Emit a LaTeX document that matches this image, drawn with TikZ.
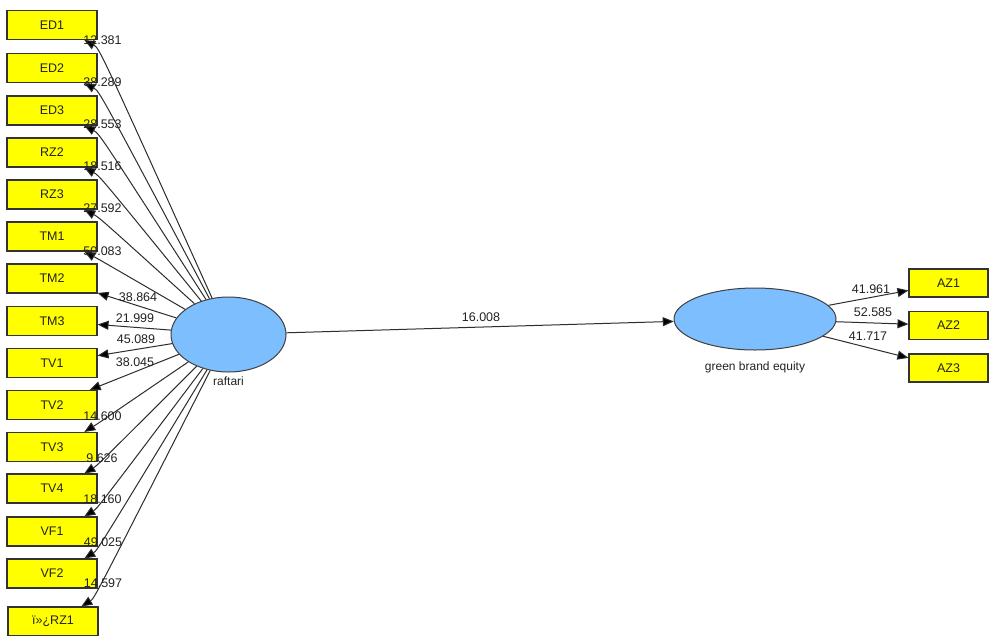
\documentclass[tikz,border=0pt]{standalone}
\usepackage{fontspec}
\setmainfont{Liberation Sans}
\usetikzlibrary{arrows.meta,calc,shapes.geometric}
\definecolor{boxyellow}{RGB}{255,255,0}
\definecolor{latblue}{RGB}{125,190,255}
\definecolor{edgecol}{RGB}{45,45,45}
\definecolor{txtcol}{RGB}{35,35,35}
\begin{document}
\begin{tikzpicture}[x=1pt,y=-1pt,
  font=\fontsize{12.5}{15}\selectfont,
  ind/.style={draw=black!80, fill=boxyellow, minimum width=90pt, minimum height=29pt, inner sep=0pt, line width=1.1pt, text=txtcol},
  azbox/.style={ind, minimum width=79pt, minimum height=28pt},
  lat/.style={ellipse, draw=black!75, fill=latblue, inner sep=0pt, line width=1pt},
  conn/.style={draw=edgecol, line width=1pt, -{Triangle[length=11pt,width=9pt,fill=black]}},
  wt/.style={inner sep=0pt, text=txtcol},
  latlab/.style={inner sep=0pt, text=txtcol, font=\fontsize{12}{14}\selectfont}]
\fill[white] (0,0) rectangle (990,635);
\useasboundingbox (0,0) rectangle (990,635);
% indicator boxes left
\node[ind] (ED1) at (52,25) {ED1};
\node[ind] (ED2) at (52,68) {ED2};
\node[ind] (ED3) at (52,110.5) {ED3};
\node[ind] (RZ2) at (52,152.5) {RZ2};
\node[ind] (RZ3) at (52,194.5) {RZ3};
\node[ind] (TM1) at (52,236.5) {TM1};
\node[ind] (TM2) at (52,278.5) {TM2};
\node[ind] (TM3) at (52,321) {TM3};
\node[ind] (TV1) at (52,363) {TV1};
\node[ind] (TV2) at (52,405) {TV2};
\node[ind] (TV3) at (52,447) {TV3};
\node[ind] (TV4) at (52,488.5) {TV4};
\node[ind] (VF1) at (52,531.5) {VF1};
\node[ind] (VF2) at (52,573.5) {VF2};
\node[ind] (RZ1) at (53,621.5) {ï»¿RZ1};
% right boxes
\node[azbox] (AZ1) at (948.5,283) {AZ1};
\node[azbox] (AZ2) at (948.5,325.5) {AZ2};
\node[azbox] (AZ3) at (948.5,368) {AZ3};
% latent variables
\node[lat, minimum width=115pt, minimum height=75pt] (raftari) at (228.5,334.5) {};
\node[latlab] (raftarilab) at (228.5,381) {raftari};
\node[lat, minimum width=162pt, minimum height=62pt] (gbe) at (755,319) {};
\node[latlab] (gbelab) at (755,367) {green brand equity};
% connectors: top group with hook
\foreach \n in {ED1,ED2,ED3,RZ2,RZ3,TM1}
  \draw[conn] (raftari) .. controls ($(\n.-25)+(15,8)$) .. (\n.-25);
% middle straight
\foreach \n in {TM2,TM3,TV1,TV2}
  \draw[conn] (raftari) -- (\n);
% bottom group with hook
\foreach \n in {TV3,TV4,VF1,VF2}
  \draw[conn] (raftari) .. controls ($(\n.25)+(13,-8)$) .. (\n.25);
\draw[conn] (raftari) .. controls ($(RZ1.28)+(13,-8)$) .. (RZ1.28);
% structural and outer
\draw[conn] (raftari) -- (gbe);
\draw[conn] (gbe) -- (AZ1);
\draw[conn] (gbe) -- (AZ2);
\draw[conn] (gbe) -- (AZ3);
% weights
\node[wt] (w1) at (102.5,40.5) {12.381};
\node[wt] (w2) at (102.5,82) {38.289};
\node[wt] (w3) at (102.5,124) {28.553};
\node[wt] (w4) at (102.5,166) {18.516};
\node[wt] (w5) at (102.5,208) {27.592};
\node[wt] (w6) at (102.5,251) {50.083};
\node[wt] (w7) at (138,297) {38.864};
\node[wt] (w8) at (135,318) {21.999};
\node[wt] (w9) at (136,339) {45.089};
\node[wt] (w10) at (135,362) {38.045};
\node[wt] (w11) at (102.5,416) {14.600};
\node[wt] (w12) at (102,458) {9.626};
\node[wt] (w13) at (102.5,499) {18.160};
\node[wt] (w14) at (103,542) {49.025};
\node[wt] (w15) at (103,583) {14.597};
\node[wt] (w16) at (481,317) {16.008};
\node[wt] (w17) at (871,289) {41.961};
\node[wt] (w18) at (873,312) {52.585};
\node[wt] (w19) at (868,336) {41.717};
\end{tikzpicture}
\end{document}
